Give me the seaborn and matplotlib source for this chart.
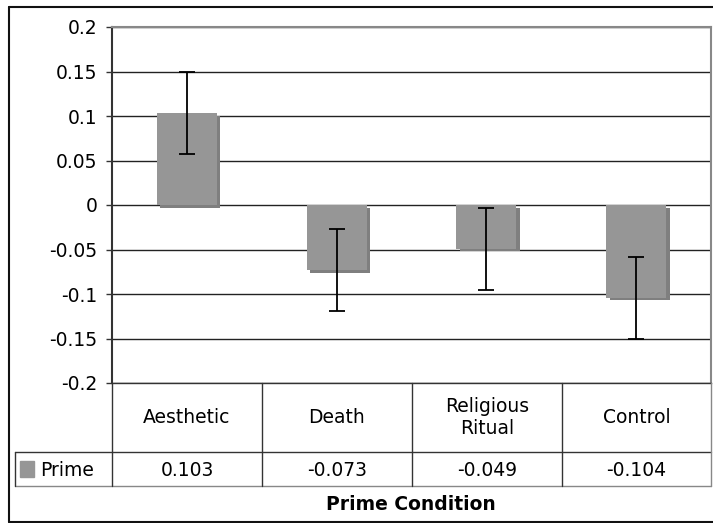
import matplotlib
matplotlib.use("Agg")
import matplotlib.pyplot as plt
import matplotlib.patheffects as pe
import seaborn as sns
import pandas as pd

categories = ["Aesthetic", "Death", "Religious\nRitual", "Control"]
prime_values = [0.103, -0.073, -0.049, -0.104]
error_values = [0.046, 0.046, 0.046, 0.046]
value_labels = ["0.103", "-0.073", "-0.049", "-0.104"]
y_ticks = [0.2, 0.15, 0.1, 0.05, 0, -0.05, -0.1, -0.15, -0.2]
y_tick_labels = ["0.2", "0.15", "0.1", "0.05", "0", "-0.05", "-0.1", "-0.15", "-0.2"]
series_name = "Prime"
x_title = "Prime Condition"

sns.set_theme(style="white")
plt.rcParams['font.family'] = ['DejaVu Sans']
plt.rcParams['text.color'] = 'black'
plt.rcParams['ytick.color'] = 'black'

FS = 13.5
W, H = 713, 523
fig = plt.figure(figsize=(W / 100, H / 100), dpi=100)

def fx(px):
    return px / W

def fy(py):
    return 1 - py / H

L, R, T, B = 112, 711, 27, 383
ax = fig.add_axes([fx(L), fy(B), fx(R) - fx(L), fy(T) - fy(B)])

df = pd.DataFrame({"cat": categories, "val": prime_values})
sns.barplot(data=df, x="cat", y="val", color="#969696", saturation=1, width=0.4,
            errorbar=None, ax=ax)
for p in ax.patches:
    p.set_path_effects([pe.SimplePatchShadow(offset=(2.5, -2.0), shadow_rgbFace="#7f7f7f", alpha=1.0),
                        pe.Normal()])
    p.set_edgecolor("none")
    p.set_zorder(3)

ax.errorbar(range(len(categories)), prime_values, yerr=error_values, fmt="none",
            ecolor="black", elinewidth=1.3, capsize=6, capthick=1.3, zorder=5)

ax.set_ylim(-0.2, 0.2)
ax.set_xlim(-0.5, 3.5)
ax.set_yticks(y_ticks)
ax.set_yticklabels(y_tick_labels, fontsize=FS, color="black")
ax.set_xticks([])
ax.set_xlabel("")
ax.set_ylabel("")
ax.tick_params(axis="y", which="both", left=True, length=4.5, width=1, color="#333333", pad=6)
for yv in y_ticks:
    ax.axhline(yv, color="#222222", lw=1, zorder=1)
for s in ["top", "right"]:
    ax.spines[s].set_color("#888888")
    ax.spines[s].set_linewidth(1.5)
ax.spines["left"].set_color("#333333")
ax.spines["left"].set_linewidth(1.5)
ax.spines["bottom"].set_color("#333333")
ax.spines["bottom"].set_linewidth(1)

# data table drawn in figure coordinates
col_edges = [112, 262, 412, 562, 711]
row_top, row_mid, row_bot = 383, 452, 486
lc = "#333333"
def hline(y, x0, x1, c=lc, lw=1):
    fig.add_artist(plt.Line2D([fx(x0), fx(x1)], [fy(y), fy(y)], color=c, lw=lw))
def vline(x, y0, y1, c=lc, lw=1):
    fig.add_artist(plt.Line2D([fx(x), fx(x)], [fy(y0), fy(y1)], color=c, lw=lw))

hline(row_mid, 15, 711)
hline(row_bot, 15, 711, c="#888888")
vline(15, row_mid, row_bot)
for i, xe in enumerate(col_edges):
    c = "#888888" if i == len(col_edges) - 1 else lc
    vline(xe, row_top, row_bot, c=c)

for i, cat in enumerate(categories):
    cx = (col_edges[i] + col_edges[i + 1]) / 2
    fig.text(fx(cx), fy((row_top + row_mid) / 2), cat, ha="center", va="center",
             fontsize=FS, linespacing=1.15, color="black")
    fig.text(fx(cx), fy((row_mid + row_bot) / 2 + 1), value_labels[i], ha="center", va="center",
             fontsize=FS, color="black")

fig.add_artist(plt.Rectangle((fx(20), fy(477)), fx(14), fy(461) - fy(477), color="#969696",
                             transform=fig.transFigure))
fig.text(fx(40), fy((row_mid + row_bot) / 2 + 1), series_name, ha="left", va="center",
         fontsize=FS, color="black")

fig.text(fx(411), fy(505), x_title, ha="center", va="center", fontsize=FS, fontweight="bold",
         color="black")

# outer frame
hline(7, 9, 713, c="#111111", lw=1.5)
hline(522, 9, 713, c="#111111", lw=1.5)
vline(9, 7, 522, c="#111111", lw=1.5)

fig.savefig("out.png", dpi=100, facecolor="white")
